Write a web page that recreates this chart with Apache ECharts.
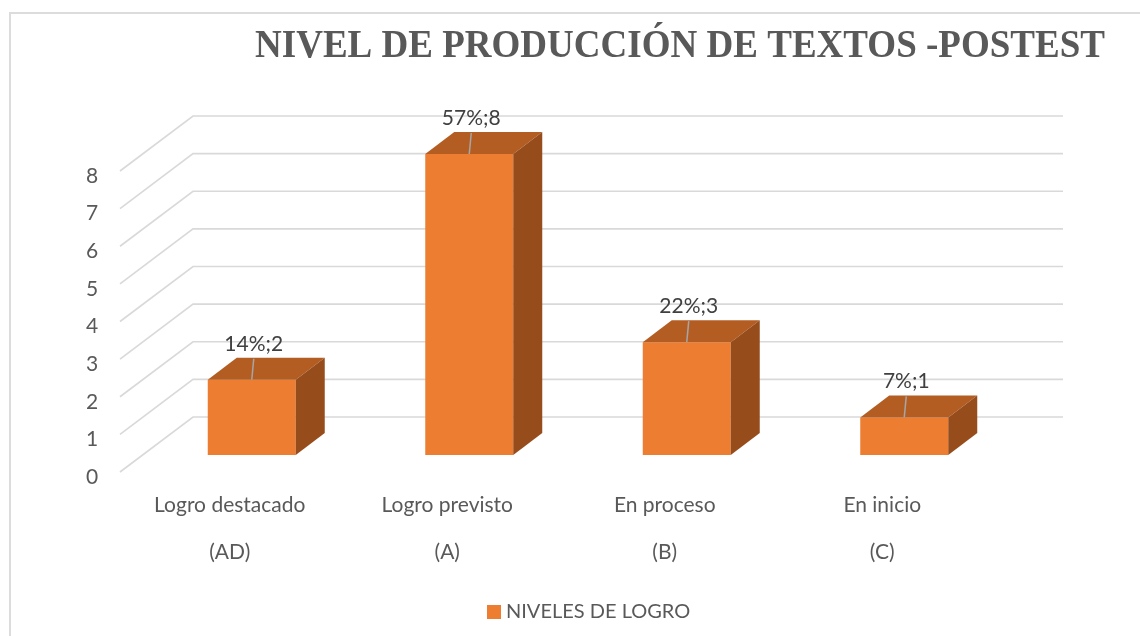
<!DOCTYPE html>
<html>
<head>
<meta charset="utf-8">
<script src="https://cdn.jsdelivr.net/npm/echarts@6/dist/echarts.min.js"></script>
<style>
  html, body { margin: 0; padding: 0; background: #fff; }
  #main { width: 1140px; height: 636px; }
</style>
</head>
<body>
<div id="main"></div>
<script>
// datos del grafico
var categorias = ['Logro destacado\n(AD)', 'Logro previsto\n(A)', 'En proceso\n(B)', 'En inicio\n(C)']
var valores = [2, 8, 3, 1]
var porcentajes = ['14%', '57%', '22%', '7%']
var yTicks = [0, 1, 2, 3, 4, 5, 6, 7, 8]

var titulo = 'NIVEL DE PRODUCCIÓN DE TEXTOS -POSTEST'
var serieNombre = 'NIVELES DE LOGRO'

var FONT = 'Lato, "Noto Sans", sans-serif'
var TITLE_FONT = '"Liberation Serif", "DejaVu Serif", serif'

// profundidad de la "pared" y de las barras (efecto 3D)
var WALL = { dx: 50, dy: -38 }
var FLOOR = { dx: -23, dy: 17 }
var BAR_D = { dx: 29, dy: -22 }
var BAR_HALF = 44

// escala horizontal del titulo
var measure = function (text, font, width) {
  var c = document.createElement('canvas').getContext('2d')
  c.font = font
  return width / c.measureText(text).width
}
var titleScale = measure(titulo, 'bold 40px ' + TITLE_FONT, 850)

const chart = echarts.init(document.getElementById('main'), null, { renderer: 'canvas' })

function renderGrid(params, api) {
  var v = api.value(0)
  var cs = params.coordSys
  var y = api.coord([0, v])[1]
  var x0 = cs.x
  var x1 = cs.x + cs.width
  var style = { stroke: '#d9d9d9', lineWidth: 1.6, fill: null }
  return {
    type: 'group',
    children: [{
      type: 'polyline',
      shape: { points: [[x0 + FLOOR.dx, y + FLOOR.dy], [x0 + WALL.dx, y + WALL.dy], [x1 + WALL.dx, y + WALL.dy]] },
      style: style
    }, {
      type: 'text',
      x: x0 + FLOOR.dx - 28,
      y: y + FLOOR.dy + 5,
      style: { text: String(v), fill: '#595959', font: '21px ' + FONT, align: 'center', verticalAlign: 'middle' }
    }]
  }
}

function renderBar(params, api) {
  var i = api.value(0)
  var v = api.value(1)
  var top = api.coord([i, v])
  var base = api.coord([i, 0])
  var c = top[0]
  var l = c - BAR_HALF, r = c + BAR_HALF
  var t = top[1], b = base[1]
  var dx = BAR_D.dx, dy = BAR_D.dy
  return {
    type: 'group',
    children: [{
      type: 'rect',
      shape: { x: l, y: t, width: r - l, height: b - t },
      style: { fill: '#ED7D31' }
    }, {
      type: 'polygon',
      shape: { points: [[l, t], [r, t], [r + dx, t + dy], [l + dx, t + dy]] },
      style: { fill: '#B45D22' }
    }, {
      type: 'polygon',
      shape: { points: [[r, t], [r + dx, t + dy], [r + dx, b + dy], [r, b]] },
      style: { fill: '#974C1C' }
    }, {
      type: 'line',
      shape: { x1: c, y1: t, x2: c + 2, y2: t - 21 },
      style: { stroke: '#a6a6a6', lineWidth: 1.5 }
    }, {
      type: 'text',
      x: c + 2,
      y: t - 36,
      style: {
        text: porcentajes[params.dataIndex] + ';' + v,
        fill: '#404040', font: '21px ' + FONT, align: 'center', verticalAlign: 'middle'
      }
    }]
  }
}

var option = {
  animation: false,
  backgroundColor: '#fff',
  grid: { left: 143, right: 127, top: 154, bottom: 181 },
  xAxis: {
    type: 'category',
    data: categorias,
    axisLine: { show: false },
    axisTick: { show: false },
    axisLabel: {
      margin: 27,
      lineHeight: 47,
      padding: [0, 44, 0, 0],
      fontSize: 21,
      fontFamily: FONT,
      color: '#595959'
    }
  },
  yAxis: {
    type: 'value',
    min: 0,
    max: 8,
    interval: 1,
    axisLabel: { show: false },
    axisLine: { show: false },
    splitLine: { show: false }
  },
  legend: {
    data: [serieNombre],
    left: 482,
    top: 597,
    icon: 'rect',
    itemWidth: 14,
    itemHeight: 14,
    itemGap: 6,
    textStyle: { fontSize: 20, fontFamily: FONT, color: '#595959' }
  },
  graphic: [{
    type: 'rect',
    shape: { x: 10, y: 13, width: 1300, height: 800 },
    style: { fill: null, stroke: '#dcdcdc', lineWidth: 2 },
    silent: true,
    z: -10
  }, {
    type: 'text',
    x: 680,
    y: 47,
    scaleX: titleScale,
    originX: 0,
    style: {
      text: titulo, fill: '#595959', font: 'bold 40px ' + TITLE_FONT,
      align: 'center', verticalAlign: 'middle'
    }
  }],
  series: [{
    type: 'custom',
    name: 'grid3d',
    renderItem: renderGrid,
    data: yTicks.map(function (t) { return [t] }),
    encode: { y: 0 },
    silent: true,
    z: 1
  }, {
    type: 'custom',
    name: serieNombre,
    renderItem: renderBar,
    itemStyle: { color: '#ED7D31' },
    data: valores.map(function (v, i) { return [i, v] }),
    encode: { x: 0, y: 1 },
    z: 2
  }]
}

chart.setOption(option)
</script>
</body>
</html>
